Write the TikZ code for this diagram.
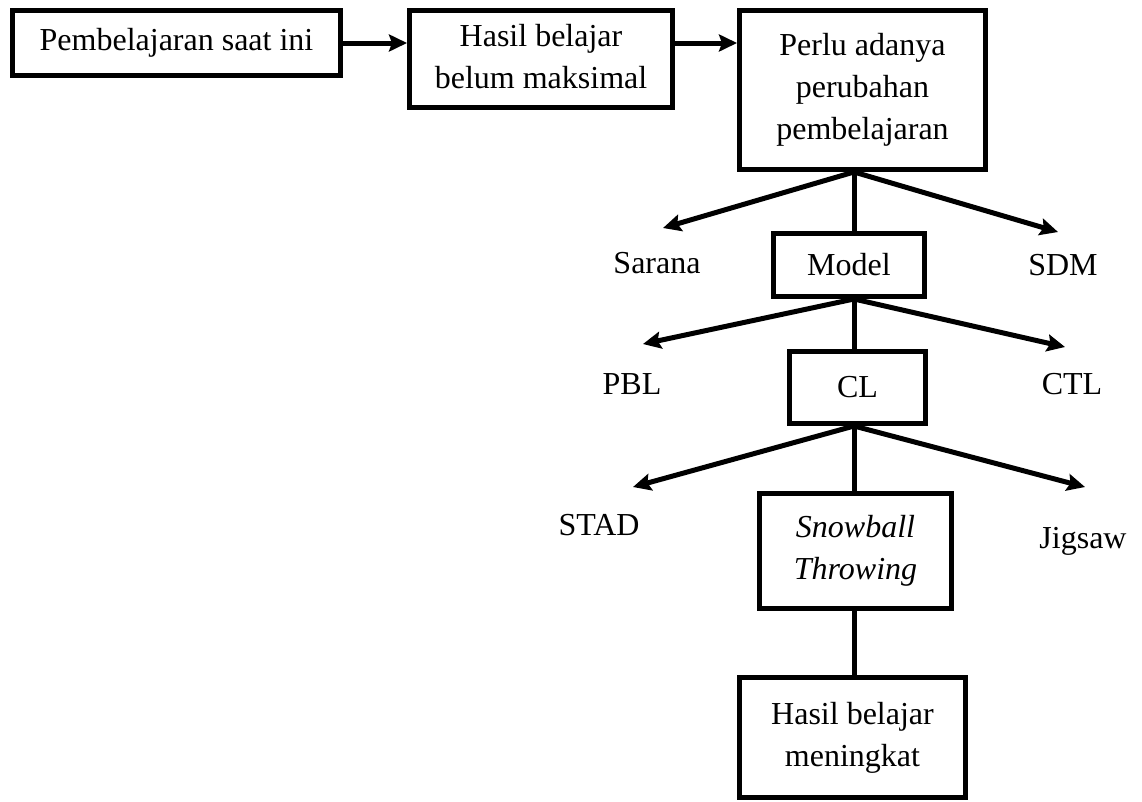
\documentclass[tikz,border=0pt]{standalone}
\usepackage{fontspec}
\setmainfont{Liberation Serif}
\usetikzlibrary{arrows.meta}
\begin{document}
\begin{tikzpicture}[x=1pt,y=-1pt,
  box/.style={draw=black,line width=5pt,align=center,inner sep=0pt,
    font=\fontsize{32}{42}\selectfont},
  lbl/.style={anchor=base,inner sep=0pt,font=\fontsize{32}{42}\selectfont},
  conn/.style={line width=5pt},
  arr/.style={line width=5pt,-{Stealth[length=18pt,width=17pt,inset=3pt]}}]
\useasboundingbox (0,0) rectangle (1142,801);
% boxes
\node[box,minimum width=328pt,minimum height=65pt] (b1) at (176.5,43) {Pembelajaran saat ini};
\node[box,minimum width=263pt,minimum height=97pt,align=none] (b2) at (541,59)
  {\raisebox{-6pt}{\begin{tabular}{@{}c@{}}Hasil belajar\\belum maksimal\end{tabular}}};
\node[box,minimum width=246pt,minimum height=159pt] (b3) at (862.5,90) {Perlu adanya\\perubahan\\pembelajaran};
\node[box,minimum width=151pt,minimum height=63pt] (model) at (849,265) {Model};
\node[box,minimum width=136pt,minimum height=72pt] (cl) at (857.5,387.5) {CL};
\node[box,minimum width=192pt,minimum height=115pt] (snow) at (855.5,551) {\textit{Snowball}\\\textit{Throwing}};
\node[box,minimum width=226pt,minimum height=120pt] (final) at (852.5,737.5) {Hasil belajar\\meningkat};
% labels
\node[lbl] (sarana) at (657,273) {Sarana};
\node[lbl] (sdm) at (1063,275) {SDM};
\node[lbl] (pbl) at (632,394) {PBL};
\node[lbl] (ctl) at (1072,394) {CTL};
\node[lbl] (stad) at (599,535) {STAD};
\node[lbl] (jigsaw) at (1083,548) {Jigsaw};
% junction points and arrow ends
\coordinate (j1) at (854,172);
\coordinate (j2) at (854,299);
\coordinate (j3) at (854,426);
\coordinate (j4) at (854,611);
\coordinate (tsarana) at (663,228);
\coordinate (tsdm) at (1058,232);
\coordinate (tpbl) at (643,344);
\coordinate (tctl) at (1065,347);
\coordinate (tstad) at (633,487);
\coordinate (tjig) at (1085,487);
% top row arrows
\draw[arr] (b1.east) -- (b2.west |- b1.east);
\draw[arr] (b2.east |- b1.east) -- (b3.west |- b1.east);
% spine
\draw[conn] (j1) -- (j1 |- model.north);
\draw[conn] (j2) -- (j2 |- cl.north);
\draw[conn] (j3) -- (j3 |- snow.north);
\draw[conn] (j4) -- (j4 |- final.north);
% branches
\draw[arr] (j1) -- (tsarana);
\draw[arr] (j1) -- (tsdm);
\draw[arr] (j2) -- (tpbl);
\draw[arr] (j2) -- (tctl);
\draw[arr] (j3) -- (tstad);
\draw[arr] (j3) -- (tjig);
\end{tikzpicture}
\end{document}
